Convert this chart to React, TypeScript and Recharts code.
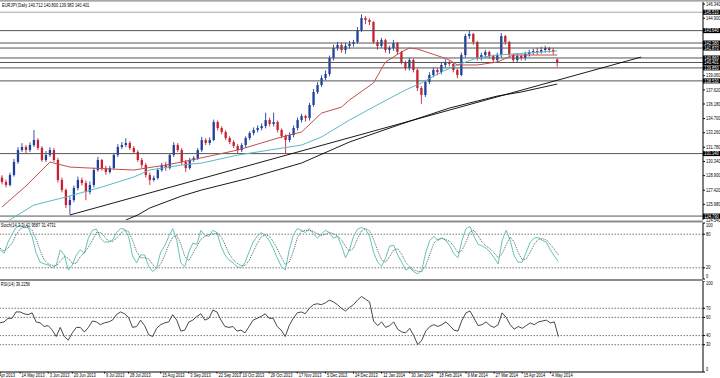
import React from 'react';
import { ComposedChart, Bar, Line, XAxis, YAxis, ReferenceLine } from 'recharts';

// ---------- DATA ----------
const title = 'EURJPY,Daily  140.712 140.800 139.983 140.401';
const stochLabel = 'Stoch(14,3,3) 42.9587 31.4731';
const rsiLabel = 'RSI(14) 39.2256';

const opens = [128.70,128.25,127.95,128.96,130.29,131.50,131.81,131.50,132.01,132.52,
131.71,130.49,131.00,131.50,130.49,128.46,127.44,125.91,126.42,127.64,
128.46,128.15,127.23,127.95,129.47,130.49,129.67,129.27,129.67,131.00,
131.81,132.01,132.22,131.71,131.30,130.49,129.98,128.96,128.46,128.66,
129.47,129.98,129.67,131.00,132.01,131.50,130.29,129.67,130.49,130.69,
131.50,132.52,132.22,132.52,134.35,133.74,133.33,132.72,132.32,131.91,
131.50,132.01,132.72,133.23,133.54,133.74,133.94,134.55,134.15,134.35,
133.54,132.93,132.52,133.03,133.74,134.55,134.96,134.76,136.08,137.40,
138.11,138.82,139.23,140.86,141.87,142.18,141.67,142.08,142.28,142.48,
143.70,144.92,144.72,144.52,142.48,142.08,142.69,141.67,141.87,142.38,
141.47,140.45,139.84,140.65,139.64,137.81,137.10,138.42,139.13,139.64,
139.43,140.15,140.45,140.25,139.64,139.13,141.16,143.09,143.30,142.48,
140.86,141.16,141.47,141.06,140.65,141.16,143.09,142.48,141.16,140.65,
141.06,140.86,141.26,141.47,141.57,141.47,141.67,141.87,141.67,140.71];

const highs = [128.95,128.5,129.2,130.6,131.8,132.2,132.0,132.3,133.54,132.7,
131.9,131.4,131.8,131.7,130.7,128.7,127.6,126.8,127.9,128.8,
128.7,128.4,128.3,129.7,130.8,130.6,129.9,129.9,131.2,132.1,
132.3,132.7,132.4,131.9,131.5,130.7,130.2,129.2,128.9,129.7,
130.2,130.3,131.2,132.3,132.2,131.7,130.5,130.7,130.9,131.7,
132.85,132.7,132.8,134.6,134.5,133.9,133.5,132.9,132.5,132.1,
132.2,132.9,133.4,133.8,134.0,134.2,135.3,134.8,135.3,134.5,
133.7,133.1,133.3,134.0,134.8,135.2,135.1,136.3,137.7,138.4,
139.1,139.6,141.1,142.2,142.5,142.4,142.4,142.6,142.7,144.0,
145.3,145.1,144.9,144.6,142.7,142.9,142.8,142.1,142.7,142.5,
141.6,140.6,140.9,140.8,139.8,138.0,138.6,139.4,139.9,139.8,
140.4,140.7,140.6,140.4,139.8,141.4,143.3,143.6,143.4,142.6,
141.4,141.7,141.6,141.2,141.4,143.4,143.2,142.6,141.3,141.3,
141.2,141.5,141.7,141.8,141.9,142.0,142.1,142.0,141.9,140.80];

const lows = [128.0,127.7,127.8,128.8,130.1,131.3,131.2,131.3,131.8,131.5,
130.3,130.3,130.8,130.3,128.2,127.2,125.6,124.95,126.2,127.4,
127.9,126.4,127.0,127.7,129.3,129.4,129.0,129.1,129.5,130.8,
131.6,131.8,131.5,131.1,130.3,129.7,128.7,127.95,128.3,128.5,
129.3,129.4,129.5,130.8,131.3,130.0,129.27,129.5,130.3,130.5,
131.3,132.0,132.0,132.4,133.5,133.1,132.5,132.1,131.7,131.2,
131.3,131.8,132.5,133.0,133.3,133.5,133.7,133.9,133.9,133.3,
132.7,131.2,132.3,132.8,133.5,134.3,134.4,134.5,135.9,137.2,
137.9,138.6,139.0,140.6,141.6,141.4,141.3,141.8,142.0,142.3,
143.5,144.3,144.2,142.3,141.7,141.9,141.4,141.3,141.6,141.2,
140.2,139.6,139.6,139.4,137.5,136.2,136.9,138.2,138.9,139.1,
139.2,139.9,140.0,139.4,138.8,139.0,140.9,142.8,142.2,140.6,
140.6,140.9,140.8,140.4,140.4,140.9,142.2,140.9,140.4,140.4,
140.6,140.6,141.0,141.2,141.2,141.3,141.4,141.4,141.2,139.98];

const closes = [128.25,127.95,128.96,130.29,131.50,131.81,131.50,132.01,132.52,131.71,
130.49,131.00,131.50,130.49,128.46,127.44,125.91,126.42,127.64,128.46,
128.15,127.23,127.95,129.47,130.49,129.67,129.27,129.67,131.00,131.81,
132.01,132.22,131.71,131.30,130.49,129.98,128.96,128.46,128.66,129.47,
129.98,129.67,131.00,132.01,131.50,130.29,129.67,130.49,130.69,131.50,
132.52,132.22,132.52,134.35,133.74,133.33,132.72,132.32,131.91,131.50,
132.01,132.72,133.23,133.54,133.74,133.94,134.55,134.15,134.35,133.54,
132.93,132.52,133.03,133.74,134.55,134.96,134.76,136.08,137.40,138.11,
138.82,139.23,140.86,141.87,142.18,141.67,142.08,142.28,142.48,143.70,
144.92,144.72,144.52,142.48,142.08,142.69,141.67,141.87,142.38,141.47,
140.45,139.84,140.65,139.64,137.81,137.10,138.42,139.13,139.64,139.43,
140.15,140.45,140.25,139.64,139.13,141.16,143.09,143.30,142.48,140.86,
141.16,141.47,141.06,140.65,141.16,143.09,142.48,141.16,140.65,141.06,
140.86,141.26,141.47,141.57,141.47,141.67,141.87,141.67,141.47,140.40];

// moving averages as [barIndex, price]
const maRed: [number, number][] = [[0,125.71],[6,127.85],[12,130.28],[17,129.77],[22,129.67],[33,129.47],[41,129.98],[45,130.28],[59,131.50],[70,132.83],[75,133.33],[80,135.26],[85,135.87],[87,136.59],[93,138.32],[96,140.45],[100,141.47],[102,141.87],[104,141.77],[110,140.96],[112,140.65],[114,140.15],[119,140.15],[124,140.45],[128,141.16],[139,141.16]];
const maTeal: [number, number][] = [[1,124.18],[8,125.91],[16,126.73],[25,127.74],[33,128.76],[37,129.47],[45,129.98],[50,130.18],[59,130.99],[67,131.50],[75,132.01],[80,132.83],[87,134.55],[93,135.88],[101,137.60],[105,138.32],[110,139.43],[114,140.15],[119,140.86],[124,141.16],[139,141.57]];
const maBlack: [number, number][] = [[31,124.39],[34,124.90],[37,125.61],[45,126.83],[50,127.44],[62,128.66],[75,130.18],[87,132.32],[100,134.15],[112,135.77],[124,136.99],[130,137.40],[139,138.21]];
const trendLine: [number, number][] = [[17,124.90],[160,140.95]];

const srLevels = [145.51, 143.64, 142.38, 141.87, 140.86, 140.401, 139.85, 138.53, 131.14, 124.79];
const srLabels = ['145.510','143.640','142.380','141.870','140.860','140.401','139.850','138.530','131.140','124.790'];
const priceTicks = [146.34, 144.9, 139.06, 137.62, 136.18, 134.7, 133.26, 131.78, 130.34, 128.9, 127.42, 125.98, 124.54];

const stochMain = [52,46,66,80,92,96,92,92,76,46,
30,27,25,20,25,52,43,16,25,43,
52,46,73,87,89,73,66,66,69,83,
90,89,76,41,29,43,43,23,13,20,
48,59,76,90,69,29,22,48,64,62,
87,78,76,87,83,59,43,34,29,22,
20,30,48,66,76,83,78,69,55,38,
23,16,52,78,90,87,83,90,81,73,
80,87,83,73,76,60,38,52,76,89,
92,89,76,48,30,23,38,59,60,43,
30,16,20,13,9,16,48,69,76,69,
73,69,59,45,38,69,90,94,76,62,
59,55,48,38,27,69,87,69,41,30,
30,48,66,73,74,69,66,52,41,31];
const stochSignal = [55,50,55,64,79,89,93,93,87,71,
51,34,27,24,23,32,40,37,28,28,
40,47,57,69,83,83,76,68,67,73,
81,87,85,69,49,38,38,36,26,19,
27,42,61,75,78,63,40,33,45,58,
71,76,80,80,82,76,62,45,35,28,
24,24,33,48,63,75,79,77,67,54,
39,26,30,49,73,85,87,87,85,81,
78,80,83,81,77,70,58,50,55,72,
86,90,86,71,51,34,30,40,52,54,
44,30,22,16,14,13,24,44,64,71,
73,70,67,58,47,51,66,84,87,77,
66,59,54,47,38,45,61,75,66,47,
34,36,48,62,71,72,70,62,53,43];
const stochTicks = [100, 80, 20, 0];
const stochLevels = [80, 20];

const rsi = [54,55,59,59,66,66,64,63,65,55,
54,50,51,46,39,49,39,35,43,49,
49,44,49,56,55,52,54,55,57,63,
66,64,60,49,50,57,51,41,39,48,
52,54,55,63,57,45,46,55,57,61,
64,57,59,68,66,57,50,49,50,45,
46,43,50,57,59,61,64,59,59,50,
46,39,51,59,65,66,64,70,74,75,
74,76,79,77,74,70,67,71,74,79,
83,80,77,56,51,55,49,51,55,47,
44,43,48,40,30,35,45,50,52,50,
52,55,51,46,45,57,65,67,59,51,
52,55,51,49,52,65,60,52,47,50,
48,51,54,52,55,56,57,54,55,39];
const rsiTicks = [100, 70, 60, 40, 30, 0];
const rsiLevels = [70, 60, 40, 30];

const dateIdx = [0,5,12,18,26,32,40,47,54,60,67,74,81,88,95,102,109,116,123,130,137];
const dateLabels = ['Apr 2013','14 May 2013','3 Jun 2013','20 Jun 2013','9 Jul 2013','28 Jul 2013','15 Aug 2013','3 Sep 2013','22 Sep 2013','10 Oct 2013','29 Oct 2013','17 Nov 2013','5 Dec 2013','24 Dec 2013','12 Jan 2014','30 Jan 2014','18 Feb 2014','9 Mar 2014','27 Mar 2014','15 Apr 2014','4 May 2014'];

// ---------- TABLE ----------
const N_SLOTS = 176;
const toMap = (pts: [number, number][]) => new Map(pts.map(([i, v]) => [i, v]));
const redM = toMap(maRed), tealM = toMap(maTeal), blackM = toMap(maBlack), trendM = toMap(trendLine);
const rows = Array.from({ length: N_SLOTS }, (_, i) => {
  const has = i < closes.length;
  return {
    i,
    o: has ? opens[i] : null,
    h: has ? highs[i] : null,
    l: has ? lows[i] : null,
    c: has ? closes[i] : null,
    range: has ? [lows[i], highs[i]] : null,
    red: redM.has(i) ? redM.get(i) : null,
    teal: tealM.has(i) ? tealM.get(i) : null,
    black: blackM.has(i) ? blackM.get(i) : null,
    trend: trendM.has(i) ? trendM.get(i) : null,
    stM: has ? stochMain[i] : null,
    stS: has ? stochSignal[i] : null,
    rsi: has ? rsi[i] : null,
  };
});

// ---------- STYLE ----------
const FONT = '"Liberation Sans", Arial, sans-serif';
const FS = 5;
const SX = 0.8;
const BULL = '#1f3f9f';
const BEAR = '#c8202e';
const AXIS_W = 17;

const T = ({ x, y, children, fill = '#000', anchor = 'start' }: any) => (
  <text transform={`translate(${x},${y}) scale(${SX},1)`} fontSize={FS} fontFamily={FONT} fill={fill} textAnchor={anchor} dominantBaseline="central">{children}</text>
);

const Candle = (props: any) => {
  const { x, y, width, height, payload } = props;
  if (!payload || payload.o == null || !isFinite(y) || !isFinite(height)) return null;
  const { o, h, l, c } = payload;
  const top = height < 0 ? y + height : y;
  const hh = Math.abs(height);
  const ppu = h - l > 0 ? hh / (h - l) : 0;
  const cx = x + width / 2;
  const yO = top + (h - o) * ppu;
  const yC = top + (h - c) * ppu;
  const col = c >= o ? BULL : BEAR;
  const bt = Math.min(yO, yC);
  const bh = Math.max(Math.abs(yC - yO), 0.8);
  return (
    <g>
      <line x1={cx} x2={cx} y1={top} y2={top + hh} stroke={col} strokeWidth={0.9} />
      <rect x={cx - 1.15} y={bt} width={2.3} height={bh} fill={col} />
    </g>
  );
};

const PriceTick = (props: any) => {
  const { x, y, payload } = props;
  const v = Number(payload.value);
  const dy = v < 124.6 ? 1.8 : 0;
  return <T x={x} y={y + dy}>{v.toFixed(3)}</T>;
};

const makeIndTick = (maxV: number, topDy: number) => (props: any) => {
  const { x, y, payload } = props;
  const v = payload.value;
  const dy = v === maxV ? topDy : v === 0 ? -3 : 0;
  return <T x={x} y={y + dy}>{String(v)}</T>;
};
const StochTick = makeIndTick(100, 2.6);
const RsiTick = makeIndTick(100, 2);

const DateTick = (props: any) => {
  const { x, y, payload } = props;
  const k = dateIdx.indexOf(payload.value);
  const label = k >= 0 ? dateLabels[k] : '';
  const dx = k === 0 ? -1.2 : 1.5;
  return <T x={x + dx} y={y + 1.8}>{label}</T>;
};

const HL = (props: any) => {
  const { viewBox, text } = props;
  if (!viewBox) return null;
  const x = viewBox.x + viewBox.width;
  const y = viewBox.y;
  return (
    <g>
      <rect x={x} y={y - 2.5} width={AXIS_W} height={5} fill="#000" />
      <T x={x + 1.2} y={y} fill="#fff">{text}</T>
    </g>
  );
};

export default function App() {
  return (
    <div style={{ position: 'absolute', left: 0, top: 0, width: 720, height: 378, background: '#fff', overflow: 'hidden' }}>
      <div style={{ position: 'absolute', left: 0, top: 0 }}>
        <ComposedChart width={720} height={223} data={rows} margin={{ top: 2, right: 0, bottom: 3, left: 0 }} barCategoryGap={0}>
          <XAxis dataKey="i" hide />
          <YAxis orientation="right" width={AXIS_W} domain={[124.39, 146.55]} allowDataOverflow ticks={priceTicks} interval={0}
            tickSize={2} tickMargin={1} axisLine={{ stroke: '#000' }} tickLine={{ stroke: '#000' }} tick={<PriceTick />} />
          {srLevels.map((lv, k) => (
            <ReferenceLine key={k} y={lv} stroke={k === 0 ? '#a8a8a8' : '#555'} strokeWidth={1}
              label={<HL text={srLabels[k]} />} />
          ))}
          <Bar dataKey="range" isAnimationActive={false} shape={(p: any) => <Candle {...p} />} />
          <Line dataKey="black" stroke="#000" strokeWidth={0.9} dot={false} connectNulls isAnimationActive={false} />
          <Line dataKey="trend" stroke="#000" strokeWidth={0.9} dot={false} connectNulls isAnimationActive={false} />
          <Line dataKey="teal" stroke="#5cb8c8" strokeWidth={1} dot={false} connectNulls isAnimationActive={false} />
          <Line dataKey="red" stroke="#c0504d" strokeWidth={1} dot={false} connectNulls isAnimationActive={false} />
        </ComposedChart>
      </div>
      <div style={{ position: 'absolute', left: 0, top: 221 }}>
        <ComposedChart width={720} height={59} data={rows} margin={{ top: 2, right: 0, bottom: 1, left: 0 }}>
          <XAxis dataKey="i" hide />
          <YAxis orientation="right" width={AXIS_W} domain={[0, 100]} allowDataOverflow ticks={stochTicks} interval={0}
            tickSize={2} tickMargin={1} axisLine={{ stroke: '#000' }} tickLine={{ stroke: '#000' }} tick={<StochTick />} />
          {stochLevels.map((lv) => (
            <ReferenceLine key={lv} y={lv} stroke="#777" strokeDasharray="1.5 1.5" />
          ))}
          <Line dataKey="stM" stroke="#66c2b8" strokeWidth={1} dot={false} isAnimationActive={false} />
          <Line dataKey="stS" stroke="#4a6a6a" strokeWidth={1} strokeDasharray="1 1" dot={false} isAnimationActive={false} />
        </ComposedChart>
      </div>
      <div style={{ position: 'absolute', left: 0, top: 281 }}>
        <ComposedChart width={720} height={97} data={rows} margin={{ top: 0, right: 0, bottom: 0, left: 0 }}>
          <XAxis dataKey="i" ticks={dateIdx} interval={0} height={6} tickSize={1.5} tickMargin={0}
            axisLine={{ stroke: '#000' }} tickLine={{ stroke: '#000' }} tick={<DateTick />} />
          <YAxis orientation="right" width={AXIS_W} domain={[0, 100]} allowDataOverflow ticks={rsiTicks} interval={0}
            tickSize={2} tickMargin={1} axisLine={{ stroke: '#000' }} tickLine={{ stroke: '#000' }} tick={<RsiTick />} />
          {rsiLevels.map((lv) => (
            <ReferenceLine key={lv} y={lv} stroke="#777" strokeDasharray="1.5 1.5" />
          ))}
          <Line dataKey="rsi" stroke="#333" strokeWidth={0.9} dot={false} isAnimationActive={false} />
        </ComposedChart>
      </div>
      <svg width={720} height={378} style={{ position: 'absolute', left: 0, top: 0, pointerEvents: 'none' }}>
        <line x1={0} x2={720} y1={0.8} y2={0.8} stroke="#8a8a8a" strokeWidth={1.2} />
        <rect x={0} y={220.5} width={703} height={2} fill="#8c8c8c" />
        <rect x={0} y={279} width={703} height={2} fill="#8c8c8c" />
        <T x={2} y={5}>{title}</T>
        <T x={0.8} y={225.5}>{stochLabel}</T>
        <T x={0.8} y={284.5}>{rsiLabel}</T>
      </svg>
    </div>
  );
}
